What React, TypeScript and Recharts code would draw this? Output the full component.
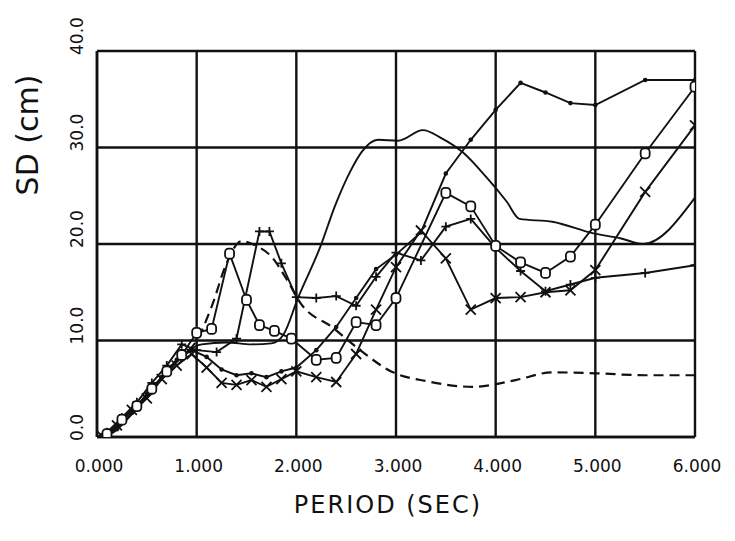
import React from "react";
import { LineChart, Line, XAxis, YAxis, CartesianGrid } from "recharts";

// Axis ticks and their printed labels
const periodTicks = [0, 1, 2, 3, 4, 5, 6];
const periodTickLabels = ["0.000", "1.000", "2.000", "3.000", "4.000", "5.000", "6.000"];
const sdTicks = [0, 10, 20, 30, 40];
const sdTickLabels = ["0.0", "10.0", "20.0", "30.0", "40.0"];

// Spectral displacement curves: [period (sec), SD (cm)]
const dotCurve: [number, number][] = [
  [0.05, 0.2], [0.2, 0.8], [0.35, 2.5], [0.5, 4.5], [0.65, 6.2], [0.8, 8.0], [0.95, 9.0],
  [1.1, 8.3], [1.25, 7.0], [1.4, 6.4], [1.55, 6.6], [1.7, 6.2], [1.85, 6.8], [2.0, 7.2],
  [2.2, 9.0], [2.4, 11.4], [2.6, 14.4], [2.8, 17.4], [3.0, 18.9], [3.25, 21.2], [3.5, 27.3],
  [3.75, 30.8], [4.0, 33.9], [4.25, 36.7], [4.5, 35.7], [4.75, 34.6], [5.0, 34.4],
  [5.5, 37.0], [6.0, 37.0],
];

const plainCurve: [number, number][] = [
  [0, 0], [0.15, 0.4], [0.3, 1.8], [0.45, 3.6], [0.6, 5.5], [0.75, 7.2], [0.9, 8.8],
  [1.05, 9.6], [1.3, 9.8], [1.55, 9.6], [1.75, 9.7], [1.87, 10.6], [2.02, 14.5],
  [2.24, 19.7], [2.39, 24.0], [2.54, 27.5], [2.66, 29.6], [2.82, 30.8], [3.02, 30.7],
  [3.27, 31.8], [3.45, 31.0], [3.67, 29.5], [3.9, 27.0], [4.11, 24.4], [4.24, 22.6],
  [4.57, 22.3], [4.98, 21.1], [5.25, 20.6], [5.48, 20.0], [6.0, 24.8],
];

const ringCurve: [number, number][] = [
  [0.1, 0.3], [0.25, 1.8], [0.4, 3.2], [0.55, 5.0], [0.7, 6.8], [0.85, 8.5], [1.0, 10.8],
  [1.15, 11.2], [1.33, 19.0], [1.5, 14.2], [1.63, 11.6], [1.78, 11.0], [1.95, 10.2],
  [2.2, 8.0], [2.4, 8.2], [2.6, 11.9], [2.8, 11.6], [3.0, 14.4], [3.5, 25.3], [3.75, 23.9],
  [4.0, 19.8], [4.25, 18.1], [4.5, 17.0], [4.75, 18.7], [5.0, 22.0], [5.5, 29.4], [6.0, 36.3],
];

const crossCurve: [number, number][] = [
  [0.05, 0.1], [0.2, 1.2], [0.35, 2.8], [0.5, 4.0], [0.65, 6.0], [0.8, 7.4], [0.95, 8.6],
  [1.1, 7.2], [1.25, 5.6], [1.4, 5.4], [1.55, 5.9], [1.7, 5.2], [1.85, 6.0], [2.0, 6.8],
  [2.2, 6.2], [2.4, 5.7], [2.6, 8.6], [2.8, 13.2], [3.0, 17.6], [3.25, 21.4], [3.5, 18.5],
  [3.75, 13.2], [4.0, 14.4], [4.25, 14.5], [4.5, 15.0], [4.75, 15.2], [5.0, 17.3],
  [5.5, 25.4], [6.0, 32.3],
];

const plusCurve: [number, number][] = [
  [0.1, 0.5], [0.25, 2.0], [0.4, 3.6], [0.55, 5.6], [0.7, 7.4], [0.85, 9.6], [1.0, 9.0],
  [1.2, 8.8], [1.4, 10.2], [1.63, 21.3], [1.73, 21.3], [1.85, 18.0], [2.0, 14.5],
  [2.2, 14.4], [2.4, 14.6], [2.6, 13.6], [2.8, 16.6], [3.0, 19.1], [3.25, 18.3],
  [3.5, 21.8], [3.75, 22.6], [4.0, 19.6], [4.25, 17.2], [4.5, 15.1], [4.75, 15.8],
  [5.0, 16.5], [5.5, 17.0], [6.0, 17.8],
];

const dashedCurve: [number, number][] = [
  [0, 0], [0.2, 1.0], [0.4, 3.0], [0.6, 5.5], [0.8, 8.0], [1.0, 10.0], [1.15, 13.5],
  [1.3, 18.0], [1.45, 20.3], [1.6, 19.8], [1.75, 18.7], [1.9, 16.4], [2.04, 13.9],
  [2.37, 11.3], [2.64, 9.0], [2.97, 6.7], [3.3, 5.8], [3.77, 5.2], [4.2, 5.9], [4.57, 6.7],
  [5.0, 6.6], [5.5, 6.4], [6.0, 6.4],
];

const toRows = (pts: [number, number][]) => pts.map(([x, y]) => ({ x, y }));

const INK = "#111";
const FONT = "'DejaVu Sans', sans-serif";

type DotProps = { cx?: number; cy?: number; index?: number };

const smallDot = (p: DotProps) => (
  <circle key={`d${p.index}`} cx={p.cx} cy={p.cy} r={2.3} fill={INK} />
);

const crossDot = (p: DotProps) => {
  const { cx = 0, cy = 0 } = p;
  const s = 5;
  return (
    <path
      key={`x${p.index}`}
      d={`M${cx - s},${cy - s}L${cx + s},${cy + s}M${cx - s},${cy + s}L${cx + s},${cy - s}`}
      stroke={INK}
      strokeWidth={1.8}
      fill="none"
    />
  );
};

const plusDot = (p: DotProps) => {
  const { cx = 0, cy = 0 } = p;
  const s = 4.5;
  return (
    <path
      key={`p${p.index}`}
      d={`M${cx - s},${cy}L${cx + s},${cy}M${cx},${cy - s}L${cx},${cy + s}`}
      stroke={INK}
      strokeWidth={1.8}
      fill="none"
    />
  );
};

const ringDot = (p: DotProps) => {
  const { cx = 0, cy = 0 } = p;
  return (
    <rect
      key={`r${p.index}`}
      x={cx - 4.5}
      y={cy - 5}
      width={9}
      height={10}
      rx={3.5}
      fill="#fff"
      stroke={INK}
      strokeWidth={1.8}
    />
  );
};

const PeriodTick = (props: any) => {
  const { x, payload } = props;
  const i = periodTicks.indexOf(payload.value);
  return (
    <text x={x + 2} y={458} textAnchor="middle" dominantBaseline="central" fontFamily={FONT} fontSize={17} fill={INK}>
      {periodTickLabels[i]}
    </text>
  );
};

const SdTick = (props: any) => {
  const { y, payload } = props;
  const i = sdTicks.indexOf(payload.value);
  const ax = 69;
  const ay = y + 4;
  return (
    <text
      x={ax}
      y={ay}
      transform={`rotate(-90, ${ax}, ${ay})`}
      textAnchor="start"
      dominantBaseline="central"
      fontFamily={FONT}
      fontSize={17}
      fill={INK}
    >
      {sdTickLabels[i]}
    </text>
  );
};

export default function App() {
  return (
    <div style={{ width: 727, height: 533, background: "#fff" }}>
      <LineChart width={727} height={533} margin={{ top: 43, right: 40, left: 0, bottom: 44 }}>
        <CartesianGrid stroke={INK} strokeWidth={2.4} />
        <XAxis
          dataKey="x"
          type="number"
          domain={[0, 6]}
          ticks={periodTicks}
          height={60}
          axisLine={{ stroke: INK, strokeWidth: 2.6 }}
          tickLine={false}
          tick={<PeriodTick />}
          interval={0}
          allowDataOverflow
        />
        <YAxis
          dataKey="y"
          type="number"
          domain={[0, 40]}
          ticks={sdTicks}
          width={89}
          axisLine={{ stroke: INK, strokeWidth: 2.6 }}
          tickLine={false}
          tick={<SdTick />}
          interval={0}
          allowDataOverflow
        />
        <Line data={toRows(plainCurve)} dataKey="y" type="monotone" stroke={INK} strokeWidth={1.9} dot={false} isAnimationActive={false} />
        <Line data={toRows(dashedCurve)} dataKey="y" type="monotone" stroke={INK} strokeWidth={2.2} strokeDasharray="10 6" dot={false} isAnimationActive={false} />
        <Line data={toRows(dotCurve)} dataKey="y" type="linear" stroke={INK} strokeWidth={1.9} dot={smallDot} isAnimationActive={false} />
        <Line data={toRows(crossCurve)} dataKey="y" type="linear" stroke={INK} strokeWidth={1.9} dot={crossDot} isAnimationActive={false} />
        <Line data={toRows(plusCurve)} dataKey="y" type="linear" stroke={INK} strokeWidth={1.9} dot={plusDot} isAnimationActive={false} />
        <Line data={toRows(ringCurve)} dataKey="y" type="linear" stroke={INK} strokeWidth={1.9} dot={ringDot} isAnimationActive={false} />
        <text x={380} y={497} textAnchor="middle" dominantBaseline="central" fontFamily={FONT} fontSize={24} letterSpacing={2} fill={INK}>
          PERIOD (SEC)
        </text>
        <text
          x={19}
          y={127}
          transform="rotate(-90, 19, 127)"
          textAnchor="middle"
          dominantBaseline="central"
          fontFamily={FONT}
          fontSize={30}
          fill={INK}
        >
          SD (cm)
        </text>
      </LineChart>
    </div>
  );
}
